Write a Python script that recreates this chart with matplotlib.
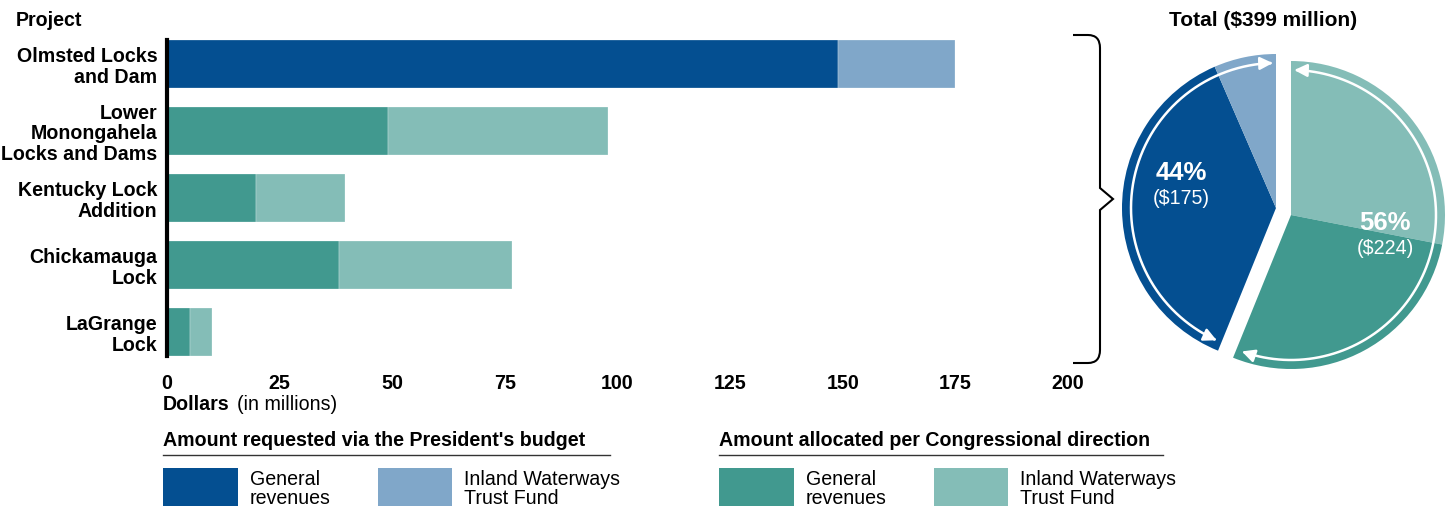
import numpy as np
import matplotlib
matplotlib.use("Agg")
import matplotlib.pyplot as plt
from matplotlib.patches import Rectangle, FancyArrowPatch, PathPatch
from matplotlib.path import Path

plt.rcParams['font.family'] = ['Liberation Sans', 'DejaVu Sans']

W, H = 1453, 508
FS = 14.1

# project data (millions of dollars)
projects = ['Olmsted Locks\nand Dam', 'Lower\nMonongahela\nLocks and Dams',
            'Kentucky Lock\nAddition', 'Chickamauga\nLock', 'LaGrange\nLock']
general = [149, 49, 19.75, 38.25, 5]
trust_fund = [26, 49, 19.75, 38.25, 5]
requested = [True, False, False, False, False]   # President's budget vs Congress

xticks = [0, 25, 50, 75, 100, 125, 150, 175, 200]

DBLUE = '#044f91'
LBLUE = '#80a7c9'
DTEAL = '#41998f'
LTEAL = '#84bdb7'

gen_colors = [DBLUE if r else DTEAL for r in requested]
fund_colors = [LBLUE if r else LTEAL for r in requested]

fig = plt.figure(figsize=(W / 100, H / 100), dpi=100)

# ---- bar chart
ax = fig.add_axes([167 / W, 1 - 356 / H, (1068 - 167) / W, 316 / H])
y = np.arange(len(projects))
ax.barh(y, general, height=0.716, color=gen_colors, edgecolor='#ffffff99', linewidth=0.3)
ax.barh(y, trust_fund, left=general, height=0.716, color=fund_colors,
        edgecolor='#ffffff99', linewidth=0.3)
ax.set_xlim(0, 200)
ax.set_ylim(4.358, -0.358)
ax.set_yticks(y)
ax.set_yticklabels(projects, fontsize=FS, fontweight='bold', linespacing=1.12)
ax.set_xticks(xticks)
ax.set_xticklabels([str(t) for t in xticks], fontsize=FS, fontweight='bold')
ax.tick_params(axis='both', length=0)
ax.tick_params(axis='y', pad=7)
ax.tick_params(axis='x', pad=13)
for s in ['top', 'right', 'bottom']:
    ax.spines[s].set_visible(False)
ax.spines['left'].set_linewidth(3)
ax.spines['left'].set_color('black')
ax.patch.set_alpha(0)

# ---- overlay in pixel coordinates
ov = fig.add_axes([0, 0, 1, 1])
ov.patch.set_alpha(0)


def Y(py):
    return H - py


ov.text(16, Y(21), 'Project', fontsize=FS, fontweight='bold', va='center')
ov.text(163, Y(404), 'Dollars', fontsize=FS, fontweight='bold', va='center')
ov.text(237, Y(404), '(in millions)', fontsize=FS, va='center')

# pie of totals
pres_gen = sum(g for g, r in zip(general, requested) if r)
pres_fund = sum(f for f, r in zip(trust_fund, requested) if r)
cong_gen = sum(g for g, r in zip(general, requested) if not r)
cong_fund = sum(f for f, r in zip(trust_fund, requested) if not r)
total = pres_gen + pres_fund + cong_gen + cong_fund
pie_vals = [cong_fund, cong_gen, pres_gen, pres_fund]
pie_cols = [LTEAL, DTEAL, DBLUE, LBLUE]

R = 154
blue_c = (1276, Y(208))
teal_c = (1291, Y(215))
wedges, _ = ov.pie(pie_vals, colors=pie_cols, startangle=90, counterclock=False,
                   radius=R, wedgeprops=dict(linewidth=0))
for i, w in enumerate(wedges):
    w.set_center(teal_c if i < 2 else blue_c)

# white arrows around each group
ra = 145
th = np.radians(np.linspace(91.3, 245.8, 200))
pts = np.column_stack([blue_c[0] + ra * np.cos(th), blue_c[1] + ra * np.sin(th)])
ov.add_patch(FancyArrowPatch(path=Path(pts), arrowstyle='<|-|>', mutation_scale=19,
                             color='white', lw=1.8))
th = np.radians(np.linspace(88.7, -109.8, 200))
pts = np.column_stack([teal_c[0] + ra * np.cos(th), teal_c[1] + ra * np.sin(th)])
ov.add_patch(FancyArrowPatch(path=Path(pts), arrowstyle='<|-|>', mutation_scale=19,
                             color='white', lw=1.8))

pres = pres_gen + pres_fund
cong = cong_gen + cong_fund
ov.text(1181, Y(173), '%d%%' % round(100 * pres / total), color='white',
        fontsize=18.5, fontweight='bold', ha='center', va='center')
ov.text(1181, Y(198), '($%d)' % pres, color='white', fontsize=FS,
        ha='center', va='center')
ov.text(1385, Y(223), '%d%%' % round(100 * cong / total), color='white',
        fontsize=18.5, fontweight='bold', ha='center', va='center')
ov.text(1385, Y(248), '($%d)' % cong, color='white', fontsize=FS,
        ha='center', va='center')
ov.text(1263, Y(21), 'Total ($%d million)' % total, fontsize=15, fontweight='bold',
        ha='center', va='center')

# brace
verts = [(1073, 35), (1088, 35), (1100, 35), (1100, 48), (1100, 188), (1113, 199),
         (1100, 210), (1100, 350), (1100, 363), (1088, 363), (1073, 363)]
codes = [Path.MOVETO, Path.LINETO, Path.CURVE3, Path.CURVE3, Path.LINETO, Path.LINETO,
         Path.LINETO, Path.LINETO, Path.CURVE3, Path.CURVE3, Path.LINETO]
ov.add_patch(PathPatch(Path([(vx, Y(vy)) for vx, vy in verts], codes),
                       facecolor='none', edgecolor='black', lw=1.5))

# legend
groups = [("Amount requested via the President's budget", 163, 610, DBLUE, LBLUE),
          ("Amount allocated per Congressional direction", 719, 1163, DTEAL, LTEAL)]
for title, x0, x1, c1, c2 in groups:
    ov.text(x0, Y(440), title, fontsize=FS, fontweight='bold', va='center')
    ov.plot([x0, x1], [Y(455), Y(455)], color='#333333', lw=1)
    ov.add_patch(Rectangle((x0, Y(506)), 75, 38, color=c1, lw=0))
    ov.text(x0 + 87, Y(489), 'General\nrevenues', fontsize=FS, va='center',
            linespacing=1.05)
    ov.add_patch(Rectangle((x0 + 215, Y(506)), 74, 38, color=c2, lw=0))
    ov.text(x0 + 301, Y(489), 'Inland Waterways\nTrust Fund', fontsize=FS,
            va='center', linespacing=1.05)

ov.set_xlim(0, W)
ov.set_ylim(0, H)
ov.set_aspect('auto')
ov.axis('off')

fig.savefig('out.png', dpi=100)
